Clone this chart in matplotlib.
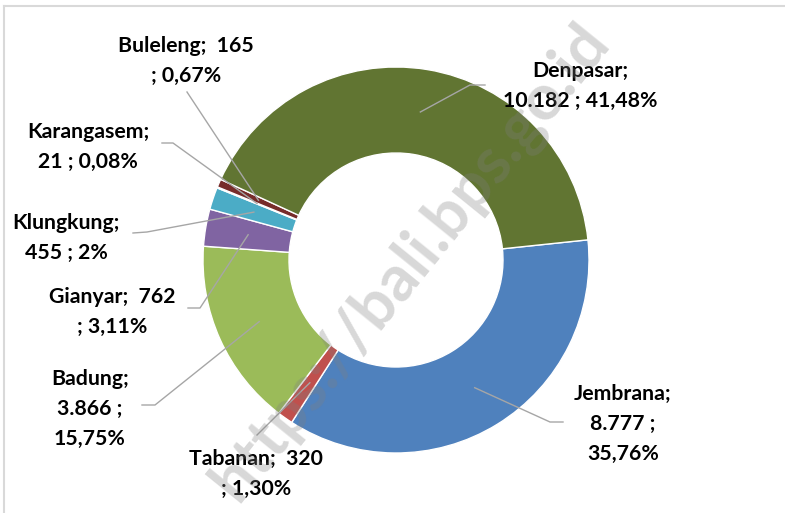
import numpy as np
import matplotlib
matplotlib.use('Agg')
import matplotlib.pyplot as plt

# data
names = ['Jembrana', 'Tabanan', 'Badung', 'Gianyar', 'Klungkung',
         'Karangasem', 'Buleleng', 'Denpasar']
values = [8777, 320, 3866, 762, 455, 21, 165, 10182]
value_txt = ['8.777', '320', '3.866', '762', '455', '21', '165', '10.182']
pct_txt = ['35,76%', '1,30%', '15,75%', '3,11%', '2%', '0,08%', '0,67%', '41,48%']
colors = ['#4F81BD', '#C0504D', '#9BBB59', '#8064A2', '#4BACC6',
          '#2C4D75', '#772C2A', '#617532']

W, H = 785, 513

# label text as it appears (line breaks like the Excel labels)
label_lines = {
    'Jembrana': 'Jembrana;\n8.777 ;\n35,76%',
    'Tabanan': 'Tabanan;  320\n; 1,30%',
    'Badung': 'Badung;\n3.866 ;\n15,75%',
    'Gianyar': 'Gianyar;  762\n; 3,11%',
    'Klungkung': 'Klungkung;\n455 ; 2%',
    'Karangasem': 'Karangasem;\n21 ; 0,08%',
    'Buleleng': 'Buleleng;  165\n; 0,67%',
    'Denpasar': 'Denpasar;\n10.182 ; 41,48%',
}

# layout in image pixels (x, y from top): label centre, leader path after slice
label_pos = {
    'Jembrana': (623, 424, [(550, 422), (563, 422)]),
    'Tabanan': (256, 474, [(257, 435)]),
    'Badung': (90, 409, [(155, 405), (142, 405)]),
    'Gianyar': (112, 312, [(200, 308), (188, 308)]),
    'Klungkung': (66, 238, [(147, 232), (133, 233)]),
    'Karangasem': (88, 147, [(173, 143), (162, 143)]),
    'Buleleng': (186, 61, [(187, 92)]),
    'Denpasar': (580, 86, [(470, 85), (485, 85)]),
}

cx, cy = 396, H - 260
r_out, r_in = 193, 107

fig = plt.figure(figsize=(W / 100, H / 100), dpi=100)
ax = fig.add_axes([0, 0, 1, 1])

wedges, _ = ax.pie(values, colors=colors, startangle=6, counterclock=False,
                   radius=r_out, center=(cx, cy),
                   wedgeprops=dict(width=r_out - r_in, edgecolor='white', linewidth=1))

ax.set_xlim(0, W)
ax.set_ylim(0, H)
ax.set_aspect('equal')
ax.axis('off')

r_mid = (r_out + r_in) / 2
for name, w in zip(names, wedges):
    ang = np.deg2rad((w.theta1 + w.theta2) / 2)
    x0 = cx + r_mid * np.cos(ang)
    y0 = cy + r_mid * np.sin(ang)
    tx, ty, path = label_pos[name]
    xs = [x0] + [p[0] for p in path]
    ys = [y0] + [H - p[1] for p in path]
    ax.plot(xs, ys, color='#A6A6A6', lw=1, zorder=3)
    ax.text(tx, H - ty, label_lines[name], ha='center', va='center',
            fontsize=15.3, fontweight='bold', family='Lato', linespacing=1.62,
            color='black', zorder=4)

# watermark
ax.text(410, H - 262, 'https://bali.bps.go.id', rotation=51, fontsize=46,
        fontweight='bold', family='Lato', color='#7F7F7F', alpha=0.3,
        ha='center', va='center', zorder=5)

# chart border
ax.plot([4, W], [H - 6, H - 6], color='#D9D9D9', lw=1.5, clip_on=False)
ax.plot([4, 4], [H - 6, 0], color='#D9D9D9', lw=1.5, clip_on=False)

fig.savefig('out.png', dpi=100)
